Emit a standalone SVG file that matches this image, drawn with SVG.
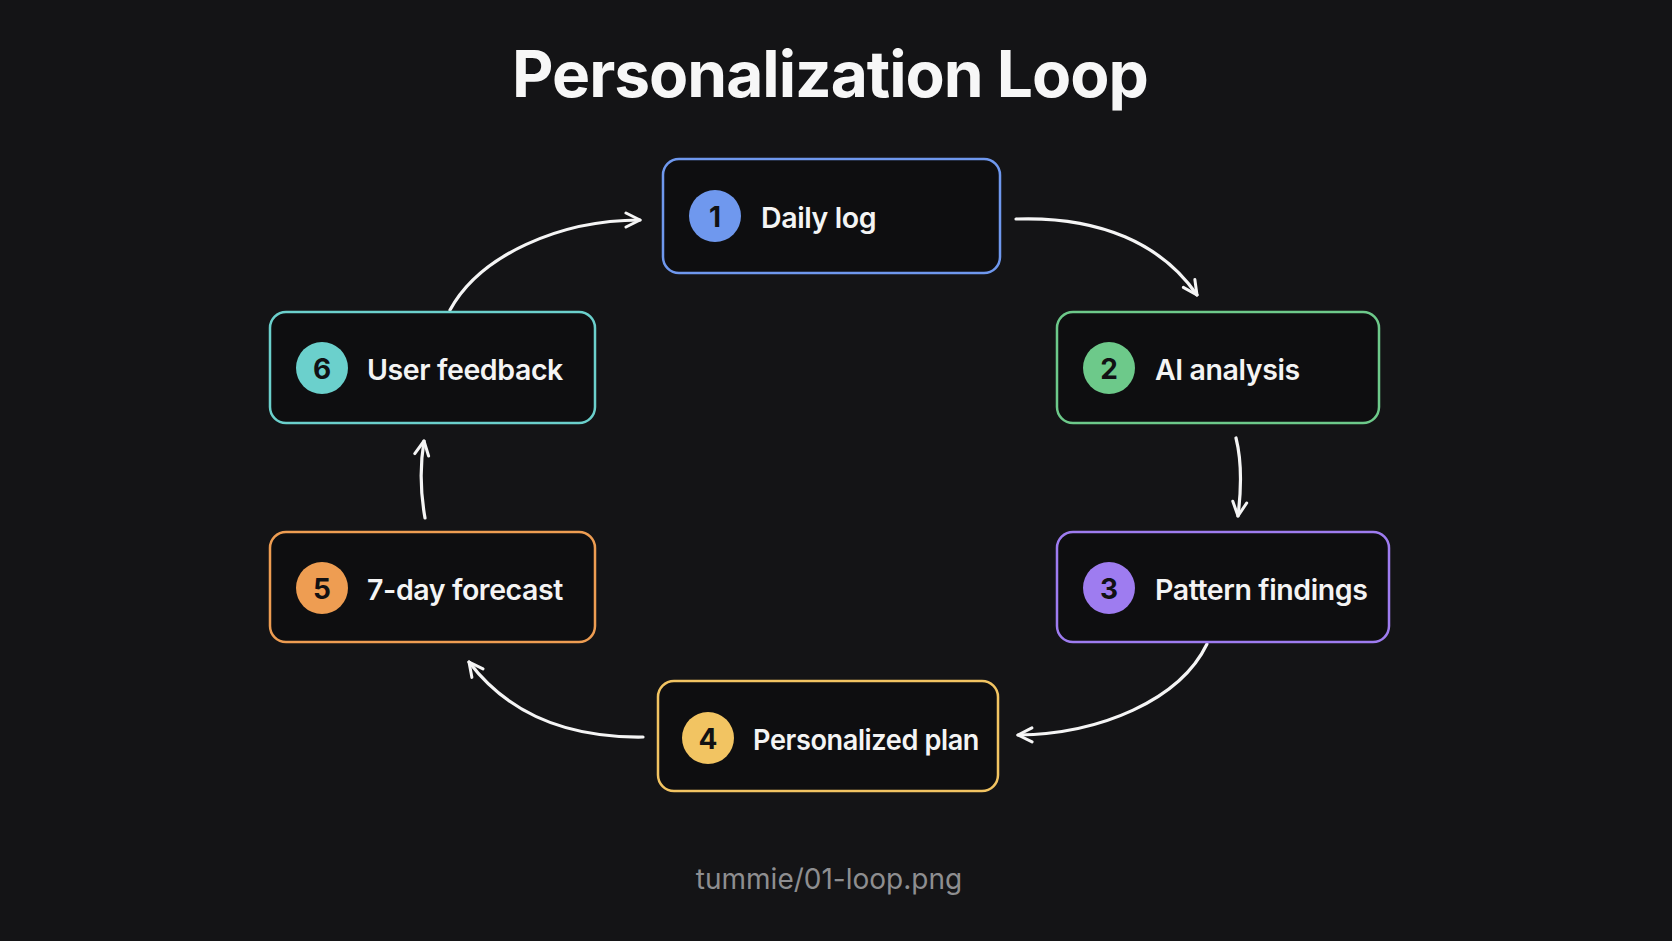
<svg xmlns="http://www.w3.org/2000/svg" width="1672" height="941" viewBox="0 0 1672 941">
<defs>
<style>
.bg{fill:#141416}
.box{fill:#0e0e10;stroke-width:2.5}
.num{font-family:Inter,"Liberation Sans",sans-serif;font-weight:700;font-size:28px;fill:#111113;text-anchor:middle}
.lbl{font-family:Inter,"Liberation Sans",sans-serif;font-weight:600;font-size:28.5px;fill:#f4f4f4;letter-spacing:-0.4px}
.title{font-family:Inter,"Liberation Sans",sans-serif;font-weight:700;font-size:64px;fill:#f7f7f7;text-anchor:middle;letter-spacing:-1px}
.foot{font-family:Inter,"Liberation Sans",sans-serif;font-weight:400;font-size:28px;fill:#8e8e90;text-anchor:middle}
.edge{fill:none;stroke:#f5f5f5;stroke-width:3.2;stroke-linecap:round}
</style>
<marker id="arr" viewBox="0 0 18 18" refX="16" refY="9" markerWidth="18" markerHeight="18" markerUnits="userSpaceOnUse" orient="auto">
<path d="M2,2 L16,9 L2,16" fill="none" stroke="#f5f5f5" stroke-width="3" stroke-linecap="round" stroke-linejoin="round"/>
</marker>
</defs>
<rect class="bg" x="0" y="0" width="1672" height="941"/>
<text class="title" x="830" y="97">Personalization Loop</text>

<g id="connectors">
<path class="edge" marker-end="url(#arr)" d="M1016 219 C1100 216 1162 244 1197 295"/>
<path class="edge" marker-end="url(#arr)" d="M1236 438 C1242 462 1241 492 1238 516"/>
<path class="edge" marker-end="url(#arr)" d="M1207 644 C1180 700 1100 734 1018 735"/>
<path class="edge" marker-end="url(#arr)" d="M643 737 C570 738 510 716 469 662"/>
<path class="edge" marker-end="url(#arr)" d="M425 518 C420 490 420 465 424 441"/>
<path class="edge" marker-end="url(#arr)" d="M450 310 C480 255 560 220 640 220"/>
</g>

<g id="node1">
<rect class="box" x="663" y="159" width="337" height="114" rx="16" stroke="#6f98ee"/>
<circle cx="715" cy="216" r="26" fill="#6f98ee"/>
<text class="num" x="715" y="227">1</text>
<text class="lbl" x="761" y="228">Daily log</text>
</g>
<g id="node2">
<rect class="box" x="1057" y="312" width="322" height="111" rx="16" stroke="#6dc98a"/>
<circle cx="1109" cy="368" r="26" fill="#6dc98a"/>
<text class="num" x="1109" y="379">2</text>
<text class="lbl" x="1155" y="380">AI analysis</text>
</g>
<g id="node3">
<rect class="box" x="1057" y="532" width="332" height="110" rx="16" stroke="#9e7cf0"/>
<circle cx="1109" cy="588" r="26" fill="#9e7cf0"/>
<text class="num" x="1109" y="599">3</text>
<text class="lbl" x="1155" y="600">Pattern findings</text>
</g>
<g id="node4">
<rect class="box" x="658" y="681" width="340" height="110" rx="16" stroke="#f2c462"/>
<circle cx="708" cy="738" r="26" fill="#f2c462"/>
<text class="num" x="708" y="749">4</text>
<text class="lbl" x="753" y="750" textLength="226" lengthAdjust="spacingAndGlyphs">Personalized plan</text>
</g>
<g id="node5">
<rect class="box" x="270" y="532" width="325" height="110" rx="16" stroke="#ee9d52"/>
<circle cx="322" cy="588" r="26" fill="#ee9d52"/>
<text class="num" x="322" y="599">5</text>
<text class="lbl" x="367" y="600">7-day forecast</text>
</g>
<g id="node6">
<rect class="box" x="270" y="312" width="325" height="111" rx="16" stroke="#6bd0cc"/>
<circle cx="322" cy="368" r="26" fill="#6bd0cc"/>
<text class="num" x="322" y="379">6</text>
<text class="lbl" x="367" y="380">User feedback</text>
</g>

<text class="foot" x="829" y="889">tummie/01-loop.png</text>
</svg>
